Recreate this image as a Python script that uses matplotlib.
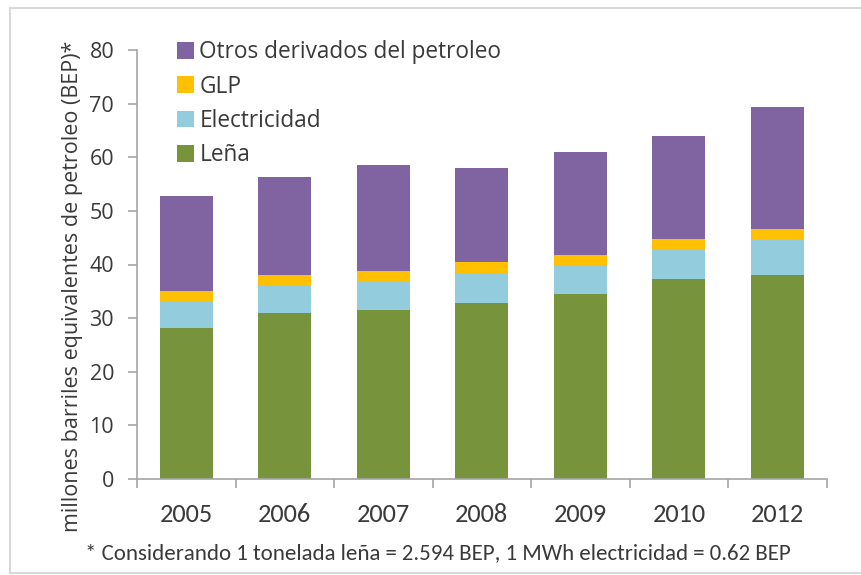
import matplotlib.pyplot as plt
import numpy as np

# Data (millones BEP)
years = ["2005", "2006", "2007", "2008", "2009", "2010", "2012"]
lena = [28.2, 31.0, 31.6, 32.9, 34.5, 37.3, 38.0]
electricidad = [4.9, 5.2, 5.4, 5.4, 5.3, 5.6, 6.5]
glp = [1.9, 1.8, 1.8, 2.1, 2.0, 1.9, 2.1]
otros = [17.8, 18.4, 19.7, 17.6, 19.1, 19.2, 22.8]

series = [
    ("Leña", lena, "#77933C"),
    ("Electricidad", electricidad, "#93CDDD"),
    ("GLP", glp, "#FFC000"),
    ("Otros derivados del petroleo", otros, "#8064A2"),
]

text_col = "#3A3A3A"
axis_col = "#A6A6A6"
narrow = ["Carlito", "Liberation Sans", "DejaVu Sans"]

fig = plt.figure(figsize=(8.62, 5.75), dpi=100)
ax = fig.add_axes([0.159, 0.167, 0.8, 0.746])

x = np.arange(len(years))
bottom = np.zeros(len(years))
handles = []
for name, vals, col in series:
    b = ax.bar(x, vals, width=0.54, bottom=bottom, color=col, label=name, linewidth=0)
    handles.append(b)
    bottom += np.array(vals)

ax.set_xlim(-0.5, len(years) - 0.5)
ax.set_ylim(0, 80)
ax.set_yticks(range(0, 81, 10))
ax.tick_params(axis="y", labelsize=15.5, colors=axis_col, labelcolor=text_col,
               length=6.5, width=1.2, pad=10)
for lab in ax.get_yticklabels():
    lab.set_family("Open Sans")

ax.set_xticks(x)
ax.set_xticklabels(years, family=narrow, fontsize=19, color=text_col)
ax.tick_params(axis="x", which="major", length=0, pad=17)
ax.set_xticks(np.arange(-0.5, len(years)), minor=True)
ax.tick_params(axis="x", which="minor", length=6.5, width=1.2, colors=axis_col)

for s in ["top", "right"]:
    ax.spines[s].set_visible(False)
for s in ["left", "bottom"]:
    ax.spines[s].set_color(axis_col)
    ax.spines[s].set_linewidth(1.2)

ax.set_ylabel("millones barriles equivalentes de petroleo (BEP)*", family="Open Sans",
              fontsize=15.5, color=text_col)
ax.yaxis.set_label_coords(-0.078, 0.448)

leg = ax.legend(handles=handles[::-1], loc="upper left", bbox_to_anchor=(0.205, 0.93),
                bbox_transform=fig.transFigure, frameon=False, handlelength=0.75,
                handleheight=0.75, handletextpad=0.25, labelspacing=0.46,
                borderpad=0, borderaxespad=0, prop={"family": "Open Sans", "size": 16.3})
for t in leg.get_texts():
    t.set_color(text_col)

fig.text(0.0986, 0.038, "* Considerando 1 tonelada leña = 2.594 BEP, 1 MWh electricidad = 0.62 BEP",
         family=narrow, fontsize=16.5, color=text_col, va="center")

# light frame of the original screenshot
frame = dict(transform=fig.transFigure, color="#D9D9D9", lw=1.5)
fig.add_artist(plt.Line2D([0.012, 0.012], [0.004, 0.986], **frame))
fig.add_artist(plt.Line2D([0.012, 1], [0.986, 0.986], **frame))
fig.add_artist(plt.Line2D([0.012, 1], [0.004, 0.004], **frame))

fig.savefig("out.png", dpi=100)
